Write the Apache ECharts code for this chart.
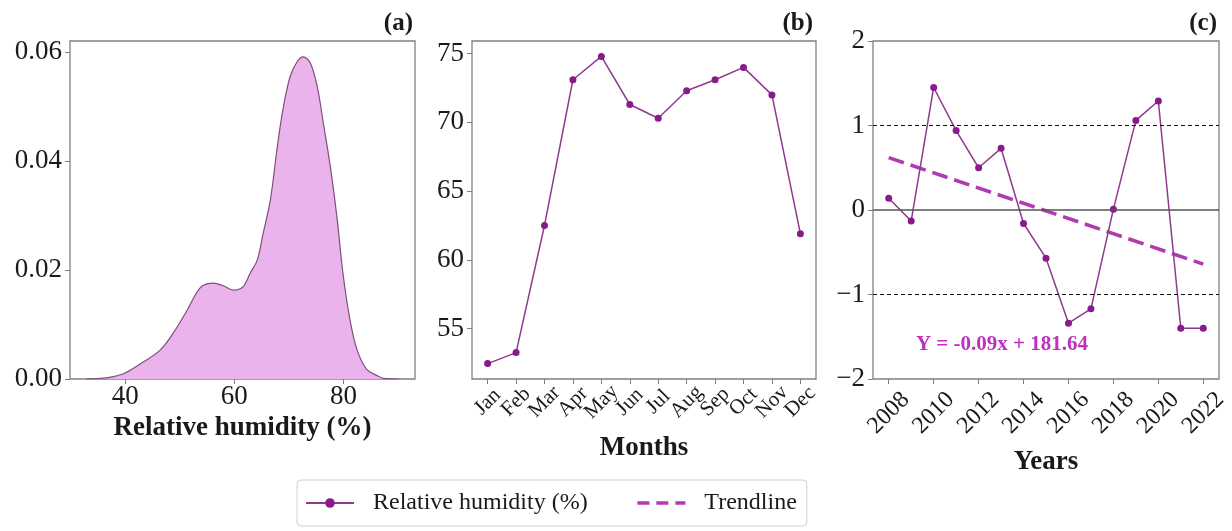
<!DOCTYPE html>
<html><head><meta charset="utf-8">
<script src="https://cdn.jsdelivr.net/npm/echarts@6/dist/echarts.min.js"></script>
<style>html,body{margin:0;padding:0;background:#fff}#c{width:1232px;height:531px}</style>
</head><body><div id="c"></div>
<script>
// ---- Data ----
const kdeX = [32.8, 35.4, 37.6, 40.0, 43.3, 46.4, 48.8, 51.4, 53.2, 54.3, 56.1, 58.0, 59.8, 61.6, 62.9, 64.2, 65.3, 66.6, 67.8, 68.9, 70.2, 71.5, 72.6, 73.9, 75.2, 76.3, 77.6, 78.8, 79.9, 81.2, 82.5, 84.3, 86.2, 87.3, 90.2];
const kdeY = [0.0000, 0.0001, 0.0004, 0.0011, 0.0031, 0.0053, 0.0084, 0.0127, 0.0160, 0.0172, 0.0176, 0.0171, 0.0163, 0.0169, 0.0194, 0.0218, 0.0268, 0.0328, 0.0420, 0.0494, 0.0554, 0.0582, 0.0591, 0.0580, 0.0536, 0.0470, 0.0389, 0.0297, 0.0194, 0.0108, 0.0053, 0.0017, 0.0006, 0.0001, 0.0000];
const kdeXTicks = [40, 60, 80];
const kdeYTicks = [0, 0.02, 0.04, 0.06];

const months = ['Jan', 'Feb', 'Mar', 'Apr', 'May', 'Jun', 'Jul', 'Aug', 'Sep', 'Oct', 'Nov', 'Dec'];
const monthlyRH = [52.45, 53.25, 62.5, 73.1, 74.8, 71.3, 70.3, 72.3, 73.1, 74.0, 72.0, 61.9];
const monthYTicks = [55, 60, 65, 70, 75];

const years = [2008, 2009, 2010, 2011, 2012, 2013, 2014, 2015, 2016, 2017, 2018, 2019, 2020, 2021, 2022];
const anomaly = [0.14, -0.13, 1.45, 0.94, 0.50, 0.73, -0.16, -0.57, -1.34, -1.17, 0.01, 1.06, 1.29, -1.40, -1.40];
const yearTicks = [2008, 2010, 2012, 2014, 2016, 2018, 2020, 2022];
const anomalyYTicks = [-2, -1, 0, 1, 2];
const trendYears = [2008, 2022];
const trendValues = [0.62, -0.64];
const thresholds = [-1, 1];
const equationText = 'Y = -0.09x + 181.64';

// ---- Styles ----
const FONT = '"Liberation Serif", "Times New Roman", serif';
const LINE_C = '#8e3a8e';
const MARK_C = '#8a1a8a';
const TREND_C = '#b03ab0';
const EQ_C = '#c030c0';
const BORDER_C = '#808080';
const TXT = '#1a1a1a';

const grids = [
  {left: 70, top: 41, width: 345, height: 338},
  {left: 472, top: 41, width: 344, height: 338},
  {left: 873, top: 41, width: 346, height: 338}
].map(g => Object.assign(g, {show: true, borderColor: BORDER_C, borderWidth: 1.3, backgroundColor: 'transparent'}));

function tick(vals) { return {show: true, length: 5, lineStyle: {color: BORDER_C, width: 1}, customValues: vals}; }
const noLine = {show: false, onZero: false};
const labelBase = {color: TXT, fontFamily: FONT, showMinLabel: true, showMaxLabel: true, hideOverlap: false};
const monthIdx = months.map((m, i) => i);
const evenIdx = monthIdx.filter(i => i % 2 === 0);
const oddIdx = monthIdx.filter(i => i % 2 === 1);
const monthLabel = vals => Object.assign({customValues: vals, formatter: v => months[Math.round(v)], rotate: 45,
  align: 'center', verticalAlign: 'middle', fontSize: 21, margin: 23}, labelBase);

const chart = echarts.init(document.getElementById('c'), null, {renderer: 'canvas'});
chart.setOption({
  animation: false,
  backgroundColor: '#fff',
  textStyle: {fontFamily: FONT},
  title: [
    {text: '(a)', right: 1232 - 413, top: 11, padding: 0, textStyle: {fontFamily: FONT, fontWeight: 'bold', fontSize: 25, color: TXT}},
    {text: '(b)', right: 1232 - 813, top: 11, padding: 0, textStyle: {fontFamily: FONT, fontWeight: 'bold', fontSize: 25, color: TXT}},
    {text: '(c)', right: 1232 - 1217, top: 11, padding: 0, textStyle: {fontFamily: FONT, fontWeight: 'bold', fontSize: 25, color: TXT}}
  ],
  grid: grids,
  legend: {
    data: [
      {name: 'Relative humidity (%)'},
      {name: 'Trendline', itemStyle: {opacity: 0}, lineStyle: {width: 3.5, type: [12, 7]}}
    ],
    left: 297, top: 480,
    padding: [11, 10, 11, 8],
    itemWidth: 48, itemHeight: 12, itemGap: 48,
    borderColor: '#d0d0d0', borderWidth: 1, borderRadius: 4,
    textStyle: {fontFamily: FONT, fontSize: 24, color: TXT, padding: [0, 0, 0, 14]}
  },
  xAxis: [
    {gridIndex: 0, type: 'value', min: 29.9, max: 93.1,
     axisLine: noLine, splitLine: {show: false}, axisTick: tick(kdeXTicks),
     axisLabel: Object.assign({customValues: kdeXTicks, fontSize: 27, margin: 4}, labelBase),
     name: 'Relative humidity (%)', nameLocation: 'middle', nameGap: 10,
     nameTextStyle: {fontFamily: FONT, fontWeight: 'bold', fontSize: 27, color: TXT, verticalAlign: 'top'}},
    {gridIndex: 1, type: 'value', position: 'bottom', min: -0.55, max: 11.55,
     axisLine: noLine, splitLine: {show: false}, axisTick: tick(monthIdx),
     axisLabel: monthLabel(evenIdx),
     name: 'Months', nameLocation: 'middle', nameGap: 56,
     nameTextStyle: {fontFamily: FONT, fontWeight: 'bold', fontSize: 27, color: TXT, verticalAlign: 'top'}},
    {gridIndex: 2, type: 'value', min: 2007.3, max: 2022.7,
     axisLine: noLine, splitLine: {show: false}, axisTick: tick(yearTicks),
     axisLabel: Object.assign({customValues: yearTicks, formatter: v => String(Math.round(v)), rotate: 45,
                 align: 'center', verticalAlign: 'middle', fontSize: 24, margin: 34}, labelBase),
     name: 'Years', nameLocation: 'middle', nameGap: 70,
     nameTextStyle: {fontFamily: FONT, fontWeight: 'bold', fontSize: 27, color: TXT, verticalAlign: 'top'}},
    {gridIndex: 1, type: 'value', position: 'bottom', offset: 0, min: -0.55, max: 11.55,
     axisLine: noLine, splitLine: {show: false}, axisTick: {show: false},
     axisLabel: monthLabel(oddIdx)}
  ],
  yAxis: [
    {gridIndex: 0, type: 'value', min: 0, max: 0.062,
     axisLine: noLine, splitLine: {show: false}, axisTick: tick(kdeYTicks),
     axisLabel: Object.assign({customValues: kdeYTicks, formatter: v => v.toFixed(2), fontSize: 27, margin: 8}, labelBase)},
    {gridIndex: 1, type: 'value', min: 51.33, max: 75.92,
     axisLine: noLine, splitLine: {show: false}, axisTick: tick(monthYTicks),
     axisLabel: Object.assign({customValues: monthYTicks, fontSize: 27, margin: 8}, labelBase)},
    {gridIndex: 2, type: 'value', min: -2, max: 2,
     axisLine: noLine, splitLine: {show: false}, axisTick: tick(anomalyYTicks),
     axisLabel: Object.assign({customValues: anomalyYTicks, formatter: v => (v < 0 ? '\u2212' + Math.abs(v) : String(v)), fontSize: 27, margin: 8}, labelBase)}
  ],
  series: [
    {name: 'Density', type: 'line', xAxisIndex: 0, yAxisIndex: 0, smooth: 0.35, showSymbol: false,
     data: kdeX.map((x, i) => [x, kdeY[i]]),
     lineStyle: {color: '#7d4f7d', width: 1.2},
     areaStyle: {color: '#ebb3eb', opacity: 1, origin: 'start'}},
    {name: 'Relative humidity (%)', type: 'line', xAxisIndex: 1, yAxisIndex: 1,
     data: monthlyRH.map((v, i) => [i, v]),
     symbol: 'circle', symbolSize: 7, showAllSymbol: true,
     lineStyle: {color: LINE_C, width: 1.5}, itemStyle: {color: MARK_C}},
    {name: 'Relative humidity (%)', type: 'line', xAxisIndex: 2, yAxisIndex: 2, z: 3,
     data: years.map((y, i) => [y, anomaly[i]]),
     symbol: 'circle', symbolSize: 7, showAllSymbol: true,
     lineStyle: {color: LINE_C, width: 1.5}, itemStyle: {color: MARK_C},
     markLine: {silent: true, symbol: 'none', label: {show: false},
       data: [
         {yAxis: 0, lineStyle: {color: '#555', width: 1.5, type: 'solid'}},
         ...thresholds.map(t => ({yAxis: t, lineStyle: {color: '#111', width: 1, type: [4, 3]}}))
       ]}},
    {name: 'Trendline', type: 'line', xAxisIndex: 2, yAxisIndex: 2, z: 2,
     data: trendYears.map((y, i) => [y, trendValues[i]]),
     symbol: 'none', showSymbol: false,
     lineStyle: {color: TREND_C, width: 3.5, type: [16, 7]}, itemStyle: {color: TREND_C}}
  ],
  graphic: [
    {type: 'text', x: 1002, y: 345, silent: true,
     style: {text: equationText, align: 'center', verticalAlign: 'middle',
             font: 'bold 21px "Liberation Serif", serif', fill: EQ_C}}
  ]
});
</script>
</body></html>
